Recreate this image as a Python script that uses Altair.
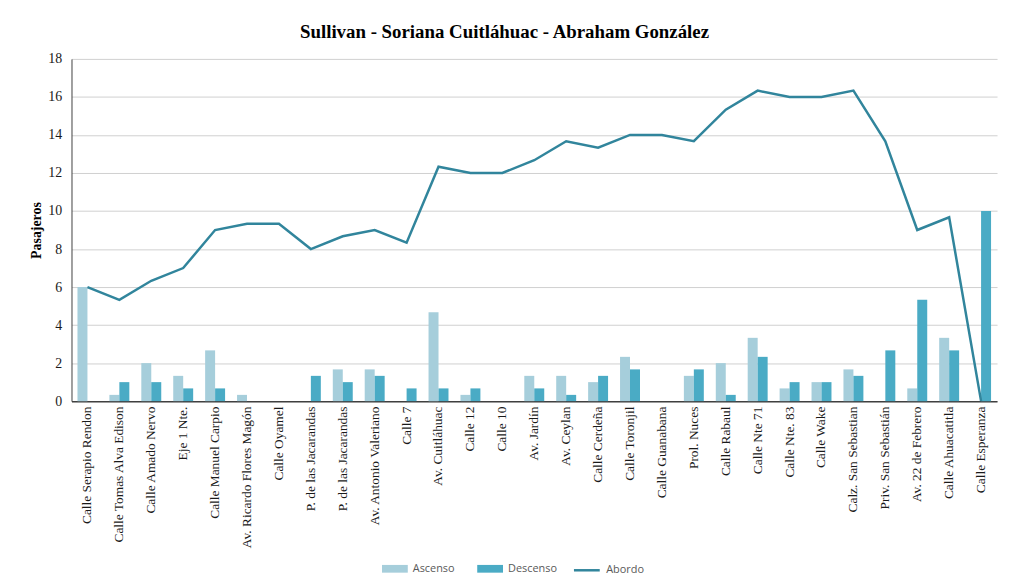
import json
import altair as alt
import pandas as pd

paradas = [
    "Calle Serapio Rendon", "Calle Tomas Alva Edison", "Calle Amado Nervo", "Eje 1 Nte.",
    "Calle Manuel Carpio", "Av. Ricardo Flores Magón", "Calle Oyamel", "P. de las Jacarandas",
    "P. de las Jacarandas", "Av. Antonio Valeriano", "Calle 7", "Av. Cuitláhuac", "Calle 12",
    "Calle 10", "Av. Jardín", "Av. Ceylan", "Calle Cerdeña", "Calle Toronjil", "Calle Guanabana",
    "Prol. Nuces", "Calle Rabaul", "Calle Nte 71", "Calle Nte. 83", "Calle Wake",
    "Calz. San Sebastian", "Priv. San Sebastián", "Av. 22 de Febrero", "Calle Ahuacatitla",
    "Calle Esperanza",
]
ascenso = [6, 0.33, 2, 1.33, 2.67, 0.33, 0, 0, 1.67, 1.67, 0, 4.67, 0.33, 0, 1.33, 1.33, 1,
           2.33, 0, 1.33, 2, 3.33, 0.67, 1, 1.67, 0, 0.67, 3.33, 0]
descenso = [0, 1, 1, 0.67, 0.67, 0, 0, 1.33, 1, 1.33, 0.67, 0.67, 0.67, 0, 0.67, 0.33, 1.33,
            1.67, 0, 1.67, 0.33, 2.33, 1, 1, 1.33, 2.67, 5.33, 2.67, 10]
abordo = [6, 5.33, 6.33, 7, 9, 9.33, 9.33, 8, 8.67, 9, 8.33, 12.33, 12, 12, 12.67, 13.67, 13.33,
          14, 14, 13.67, 15.33, 16.33, 16, 16, 16.33, 13.67, 9, 9.67, 0]
y_ticks = [0, 2, 4, 6, 8, 10, 12, 14, 16, 18]
series_barras = ["Ascenso", "Descenso"]
colores_barras = ["#A6CEDB", "#4AABC5"]
serie_linea = "Abordo"
color_linea = "#31859C"

df = pd.DataFrame({
    "idx": list(range(len(paradas))),
    "parada": paradas,
    "Ascenso": ascenso,
    "Descenso": descenso,
    "Abordo": abordo,
})

label_expr = json.dumps(paradas) + "[datum.value]"
serif = "Liberation Serif"

legend_common = dict(
    title=None, orient="none", direction="horizontal", legendY=501,
    labelFont="Open Sans", labelFontSize=11, labelColor="#595959",
    symbolSize=676, columnPadding=22, labelOffset=5, symbolOpacity=1,
)

x_axis = alt.Axis(title=None, labelExpr=label_expr, labelAngle=270, ticks=False,
                  domainColor="#404040", domainWidth=1.5, labelFont=serif, labelFontSize=13.5,
                  labelColor="#1a1a1a", labelPadding=5, grid=False, labelOverlap=False)
y_axis = alt.Axis(title="Pasajeros", values=y_ticks, ticks=False,
                  grid=True, gridColor="#CFCFCF", gridWidth=1,
                  domainColor="#404040", domainWidth=1,
                  labelFont=serif, labelFontSize=14, labelColor="#1a1a1a",
                  labelPadding=10, titleFont=serif, titleFontSize=14,
                  titleFontWeight="bold", titleColor="#000000", titlePadding=4)
x_scale = alt.Scale(paddingInner=0, paddingOuter=0)
y_scale = alt.Scale(domain=[0, 18], nice=False)

base = alt.Chart(df)

bars = base.transform_fold(series_barras, as_=["serie", "valor"]).mark_bar().encode(
    x=alt.X("idx:O", scale=x_scale, axis=x_axis),
    xOffset=alt.XOffset("serie:N", scale=alt.Scale(domain=series_barras,
                                                   paddingInner=0, paddingOuter=0.6)),
    y=alt.Y("valor:Q", scale=y_scale, axis=y_axis),
    color=alt.Color("serie:N", scale=alt.Scale(domain=series_barras, range=colores_barras),
                    legend=alt.Legend(symbolType="M-1,-0.3H1V0.3H-1Z", symbolStrokeWidth=0,
                                      legendX=313, **legend_common)),
)

line = base.transform_calculate(serie_l=f"'{serie_linea}'").mark_line(strokeWidth=2.5).encode(
    x=alt.X("idx:O", scale=x_scale, axis=x_axis),
    y=alt.Y("Abordo:Q", scale=y_scale, axis=y_axis),
    stroke=alt.Stroke("serie_l:N",
                      scale=alt.Scale(domain=[serie_linea], range=[color_linea]),
                      legend=alt.Legend(symbolType="M-1,0H1", symbolStrokeWidth=2.5,
                                        legendX=505, **legend_common)),
)

chart = alt.layer(bars, line).resolve_scale(color="independent", stroke="independent").properties(
    width=933, height=345,
    background="white",
    title=alt.TitleParams("Sullivan  - Soriana Cuitláhuac  - Abraham  González",
                          font=serif, fontSize=19, fontWeight="bold", color="#000000",
                          anchor="middle", dx=-30, dy=10, baseline="bottom", offset=1),
    autosize=alt.AutoSizeParams(type="none"),
    padding={"left": 64, "top": 49, "right": 5, "bottom": 180},
).configure_view(stroke=None)

chart.save("out.html", embed_options={"renderer": "svg", "actions": False})
